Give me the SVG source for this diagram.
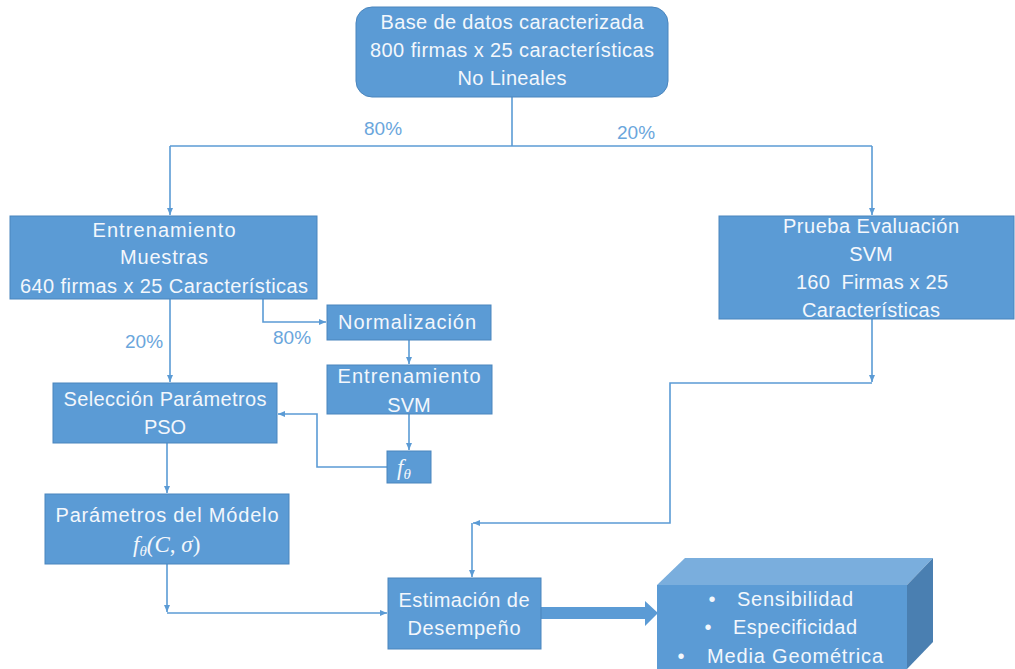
<svg xmlns="http://www.w3.org/2000/svg" width="1015" height="669" viewBox="0 0 1015 669">
<defs>
<marker id="ah" markerWidth="8" markerHeight="8" refX="7" refY="4" orient="auto" markerUnits="userSpaceOnUse">
<path d="M0,1 L7,4 L0,7 Z" fill="#5b9bd5"/>
</marker>
<style>
.box{fill:#5b9bd5;stroke:#4a85bd;stroke-width:1}
.t{font-family:"Liberation Sans",Arial,sans-serif;font-size:20px;fill:#f3f7fc;text-anchor:middle}
.lbl{font-family:"Liberation Sans",Arial,sans-serif;font-size:19px;fill:#6aa6dc}
.c{fill:none;stroke:#5b9bd5;stroke-width:1.6}
.m{font-family:"Liberation Serif","DejaVu Serif",serif;font-style:italic;fill:#f3f7fc}
</style>
</defs>
<rect width="1015" height="669" fill="#ffffff"/>

<g id="connectors">
<path class="c" d="M512,97 V146"/>
<path class="c" d="M170,146 H872"/>
<path class="c" d="M170,146 V215" marker-end="url(#ah)"/>
<path class="c" d="M872,146 V215" marker-end="url(#ah)"/>
<path class="c" d="M170,299 V382" marker-end="url(#ah)"/>
<path class="c" d="M263,299 V322 H326" marker-end="url(#ah)"/>
<path class="c" d="M409,340 V364" marker-end="url(#ah)"/>
<path class="c" d="M409,414 V450" marker-end="url(#ah)"/>
<path class="c" d="M387,467 H317 V414 H278" marker-end="url(#ah)"/>
<path class="c" d="M167,443 V493" marker-end="url(#ah)"/>
<path class="c" d="M167,564 V612" marker-end="url(#ah)"/>
<path class="c" d="M167,613 H387" marker-end="url(#ah)"/>
<path class="c" d="M872,319 V382" marker-end="url(#ah)"/>
<path class="c" d="M872,383 H670 V523 H473" marker-end="url(#ah)"/>
<path class="c" d="M472,523 V577" marker-end="url(#ah)"/>
<polygon points="541,607 645,607 645,601 658,613 645,626 645,619 541,619" fill="#5b9bd5"/>
<text class="lbl" x="364" y="135">80%</text>
<text class="lbl" x="617" y="139">20%</text>
<text class="lbl" x="125" y="348">20%</text>
<text class="lbl" x="273" y="344">80%</text>
</g>

<g id="base-datos">
<rect class="box" x="356" y="7" width="312" height="90" rx="16"/>
<text class="t" x="512" y="29" textLength="263" lengthAdjust="spacing">Base de datos caracterizada</text>
<text class="t" x="512" y="57" textLength="284" lengthAdjust="spacing">800 firmas x 25 características</text>
<text class="t" x="512" y="85" textLength="109" lengthAdjust="spacing">No Lineales</text>
</g>

<g id="entrenamiento">
<rect class="box" x="10" y="216" width="307" height="83"/>
<text class="t" x="164" y="237" textLength="143" lengthAdjust="spacing">Entrenamiento</text>
<text class="t" x="164" y="264" textLength="88" lengthAdjust="spacing">Muestras</text>
<text class="t" x="164" y="293" textLength="288" lengthAdjust="spacing">640 firmas x 25 Características</text>
</g>

<g id="prueba">
<rect class="box" x="719" y="216" width="295" height="103"/>
<text class="t" x="871" y="233" textLength="176" lengthAdjust="spacing">Prueba Evaluación</text>
<text class="t" x="871" y="261">SVM</text>
<text class="t" x="872" y="289" textLength="152" lengthAdjust="spacing" xml:space="preserve">160  Firmas x 25</text>
<text class="t" x="871" y="317" textLength="138" lengthAdjust="spacing">Características</text>
</g>

<g id="normalizacion">
<rect class="box" x="327" y="305" width="164" height="35"/>
<text class="t" x="407" y="329" textLength="138" lengthAdjust="spacing">Normalización</text>
</g>

<g id="entrenamiento-svm">
<rect class="box" x="327" y="365" width="165" height="49"/>
<text class="t" x="409" y="383" textLength="143" lengthAdjust="spacing">Entrenamiento</text>
<text class="t" x="409" y="412">SVM</text>
</g>

<g id="f-theta">
<rect class="box" x="387" y="451" width="44" height="32"/>
<text class="m" x="397" y="475" font-size="23">f<tspan font-size="15" dy="4">θ</tspan></text>
</g>

<g id="seleccion">
<rect class="box" x="53" y="383" width="224" height="60"/>
<text class="t" x="165" y="406" textLength="203" lengthAdjust="spacing">Selección Parámetros</text>
<text class="t" x="165" y="434">PSO</text>
</g>

<g id="parametros">
<rect class="box" x="45" y="494" width="244" height="70"/>
<text class="t" x="167" y="522" textLength="223" lengthAdjust="spacing">Parámetros del Módelo</text>
<text class="m" x="133" y="552" font-size="23">f<tspan font-size="15" dy="4">θ</tspan><tspan dy="-4">(</tspan><tspan>C</tspan><tspan font-style="normal">, </tspan><tspan>σ</tspan><tspan font-style="normal">)</tspan></text>
</g>

<g id="estimacion">
<rect class="box" x="388" y="578" width="153" height="71"/>
<text class="t" x="464" y="607" textLength="131" lengthAdjust="spacing">Estimación de</text>
<text class="t" x="464" y="635" textLength="113" lengthAdjust="spacing">Desempeño</text>
</g>

<g id="metricas">
<polygon points="657,585 685,558 933,558 907,585" fill="#7aaedd"/>
<polygon points="907,585 933,558 933,642 907,669" fill="#4a7fb1"/>
<rect x="657" y="585" width="250" height="90" fill="#5b9bd5"/>
<text class="t" x="712" y="606">•</text>
<text class="t" x="795" y="606" textLength="116" lengthAdjust="spacing">Sensibilidad</text>
<text class="t" x="708" y="634">•</text>
<text class="t" x="795" y="634" textLength="124" lengthAdjust="spacing">Especificidad</text>
<text class="t" x="681" y="663">•</text>
<text class="t" x="795" y="663" textLength="176" lengthAdjust="spacing">Media Geométrica</text>
</g>
</svg>
